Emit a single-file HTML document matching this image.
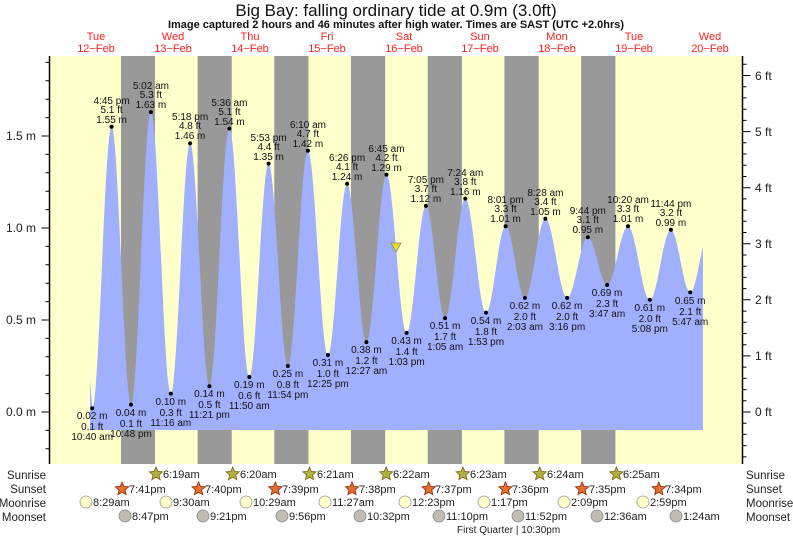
<!DOCTYPE html>
<html><head><meta charset="utf-8"><style>
body{margin:0;background:#fff}
svg{display:block;font-family:"Liberation Sans",sans-serif}
.l{font-size:10px;fill:#111;text-anchor:middle}
.r{font-size:11px;fill:#222}
</style></head><body>
<svg width="793" height="538" viewBox="0 0 793 538" xmlns="http://www.w3.org/2000/svg">
<defs>
<polygon id="st" points="0,-7 1.88,-2.59 6.66,-2.16 3.04,0.99 4.11,5.66 0,3.2 -4.11,5.66 -3.04,0.99 -6.66,-2.16 -1.88,-2.59"/>
</defs>
<rect x="50" y="56" width="692" height="408" fill="#ffffcc"/>
<g fill="#999999">
<rect x="121" y="56" width="34" height="408"/>
<rect x="197.6" y="56" width="34.1" height="408"/>
<rect x="274.3" y="56" width="34.2" height="408"/>
<rect x="351" y="56" width="34.2" height="408"/>
<rect x="427.7" y="56" width="34.2" height="408"/>
<rect x="504.4" y="56" width="34.3" height="408"/>
<rect x="581.1" y="56" width="34.3" height="408"/>
</g>
<path fill="#a0b0ff" d="M90,430 L90,380 L92.2,408.3 C99.2,408.3 104.6,126.8 111.6,126.8 C118.6,126.8 124,404.6 131,404.6 C138.2,404.6 143.7,112.1 150.9,112.1 C158.1,112.1 163.6,393.6 170.8,393.6 C177.7,393.6 183.2,143.4 190.1,143.4 C197,143.4 202.5,386.2 209.4,386.2 C216.6,386.2 222.2,128.6 229.4,128.6 C236.6,128.6 242.1,377 249.3,377 C256.2,377 261.7,163.6 268.6,163.6 C275.5,163.6 281,366 287.9,366 C295.1,366 300.7,150.7 307.9,150.7 C315.1,150.7 320.7,355 327.9,355 C334.8,355 340.2,183.8 347.1,183.8 C354,183.8 359.5,342.1 366.4,342.1 C373.6,342.1 379.3,174.6 386.5,174.6 C393.7,174.6 399.4,332.9 406.6,332.9 C413.5,332.9 419,205.9 425.9,205.9 C432.8,205.9 438.2,318.2 445.1,318.2 C452.4,318.2 458,198.6 465.3,198.6 C472.8,198.6 478.5,312.6 486,312.6 C493.1,312.6 498.5,226.2 505.6,226.2 C512.5,226.2 518,297.9 524.9,297.9 C532.3,297.9 538,218.8 545.4,218.8 C553.2,218.8 559.3,297.9 567.1,297.9 C574.6,297.9 580.3,237.2 587.8,237.2 C594.7,237.2 600.2,285 607.1,285 C614.6,285 620.5,226.2 628,226.2 C635.8,226.2 642,299.8 649.8,299.8 C657.4,299.8 663.3,229.8 670.9,229.8 C677.8,229.8 683.3,292.4 690.2,292.4 C695,292.4 699,262 703,247 L703,430 Z"/>
<g fill="#000">
<circle cx="92.2" cy="408.3" r="2"/><circle cx="111.6" cy="126.8" r="2"/><circle cx="131" cy="404.6" r="2"/><circle cx="150.9" cy="112.1" r="2"/><circle cx="170.8" cy="393.6" r="2"/><circle cx="190.1" cy="143.4" r="2"/><circle cx="209.4" cy="386.2" r="2"/><circle cx="229.4" cy="128.6" r="2"/><circle cx="249.3" cy="377" r="2"/><circle cx="268.6" cy="163.6" r="2"/><circle cx="287.9" cy="366" r="2"/><circle cx="307.9" cy="150.7" r="2"/><circle cx="327.9" cy="355" r="2"/><circle cx="347.1" cy="183.8" r="2"/><circle cx="366.4" cy="342.1" r="2"/><circle cx="386.5" cy="174.6" r="2"/><circle cx="406.6" cy="332.9" r="2"/><circle cx="425.9" cy="205.9" r="2"/><circle cx="445.1" cy="318.2" r="2"/><circle cx="465.3" cy="198.6" r="2"/><circle cx="486" cy="312.6" r="2"/><circle cx="505.6" cy="226.2" r="2"/><circle cx="524.9" cy="297.9" r="2"/><circle cx="545.4" cy="218.8" r="2"/><circle cx="567.1" cy="297.9" r="2"/><circle cx="587.8" cy="237.2" r="2"/><circle cx="607.1" cy="285" r="2"/><circle cx="628" cy="226.2" r="2"/><circle cx="649.8" cy="299.8" r="2"/><circle cx="670.9" cy="229.8" r="2"/><circle cx="690.2" cy="292.4" r="2"/>
</g>
<polygon points="391,243 401,243 396,252" fill="#e8e020" stroke="#888" stroke-width="0.8"/>
<g class="l">
<text x="111.6" y="104">4:45 pm</text><text x="111.6" y="113">5.1 ft</text><text x="111.6" y="123">1.55 m</text>
<text x="150.9" y="89">5:02 am</text><text x="150.9" y="98">5.3 ft</text><text x="150.9" y="108">1.63 m</text>
<text x="190.1" y="120">5:18 pm</text><text x="190.1" y="129">4.8 ft</text><text x="190.1" y="139">1.46 m</text>
<text x="229.4" y="106">5:36 am</text><text x="229.4" y="115">5.1 ft</text><text x="229.4" y="125">1.54 m</text>
<text x="268.6" y="141">5:53 pm</text><text x="268.6" y="150">4.4 ft</text><text x="268.6" y="160">1.35 m</text>
<text x="307.9" y="128">6:10 am</text><text x="307.9" y="137">4.7 ft</text><text x="307.9" y="147">1.42 m</text>
<text x="347.1" y="161">6:26 pm</text><text x="347.1" y="170">4.1 ft</text><text x="347.1" y="180">1.24 m</text>
<text x="386.5" y="152">6:45 am</text><text x="386.5" y="161">4.2 ft</text><text x="386.5" y="171">1.29 m</text>
<text x="425.9" y="183">7:05 pm</text><text x="425.9" y="192">3.7 ft</text><text x="425.9" y="202">1.12 m</text>
<text x="465.3" y="176">7:24 am</text><text x="465.3" y="185">3.8 ft</text><text x="465.3" y="195">1.16 m</text>
<text x="505.6" y="203">8:01 pm</text><text x="505.6" y="212">3.3 ft</text><text x="505.6" y="222">1.01 m</text>
<text x="545.4" y="196">8:28 am</text><text x="545.4" y="205">3.4 ft</text><text x="545.4" y="215">1.05 m</text>
<text x="587.8" y="214">9:44 pm</text><text x="587.8" y="223">3.1 ft</text><text x="587.8" y="233">0.95 m</text>
<text x="628" y="203">10:20 am</text><text x="628" y="212">3.3 ft</text><text x="628" y="222">1.01 m</text>
<text x="670.9" y="207">11:44 pm</text><text x="670.9" y="216">3.2 ft</text><text x="670.9" y="226">0.99 m</text>
<text x="92.2" y="419">0.02 m</text><text x="92.2" y="430">0.1 ft</text><text x="92.2" y="440">10:40 am</text>
<text x="131" y="416">0.04 m</text><text x="131" y="427">0.1 ft</text><text x="131" y="437">10:48 pm</text>
<text x="170.8" y="405">0.10 m</text><text x="170.8" y="416">0.3 ft</text><text x="170.8" y="426">11:16 am</text>
<text x="209.4" y="397">0.14 m</text><text x="209.4" y="408">0.5 ft</text><text x="209.4" y="418">11:21 pm</text>
<text x="249.3" y="388">0.19 m</text><text x="249.3" y="399">0.6 ft</text><text x="249.3" y="409">11:50 am</text>
<text x="287.9" y="377">0.25 m</text><text x="287.9" y="388">0.8 ft</text><text x="287.9" y="398">11:54 pm</text>
<text x="327.9" y="366">0.31 m</text><text x="327.9" y="377">1.0 ft</text><text x="327.9" y="387">12:25 pm</text>
<text x="366.4" y="353">0.38 m</text><text x="366.4" y="364">1.2 ft</text><text x="366.4" y="374">12:27 am</text>
<text x="406.6" y="344">0.43 m</text><text x="406.6" y="355">1.4 ft</text><text x="406.6" y="365">1:03 pm</text>
<text x="445.1" y="329">0.51 m</text><text x="445.1" y="340">1.7 ft</text><text x="445.1" y="350">1:05 am</text>
<text x="486" y="324">0.54 m</text><text x="486" y="335">1.8 ft</text><text x="486" y="345">1:53 pm</text>
<text x="524.9" y="309">0.62 m</text><text x="524.9" y="320">2.0 ft</text><text x="524.9" y="330">2:03 am</text>
<text x="567.1" y="309">0.62 m</text><text x="567.1" y="320">2.0 ft</text><text x="567.1" y="330">3:16 pm</text>
<text x="607.1" y="296">0.69 m</text><text x="607.1" y="307">2.3 ft</text><text x="607.1" y="317">3:47 am</text>
<text x="649.8" y="311">0.61 m</text><text x="649.8" y="322">2.0 ft</text><text x="649.8" y="332">5:08 pm</text>
<text x="690.2" y="304">0.65 m</text><text x="690.2" y="315">2.1 ft</text><text x="690.2" y="325">5:47 am</text>
</g>
<g stroke="#000" stroke-width="1.5">
<line x1="49.5" y1="56" x2="49.5" y2="464"/>
<line x1="742.5" y1="56" x2="742.5" y2="464"/>
</g>
<path stroke="#000" stroke-width="1" fill="none" d="M45.5,448.8H49.5M45.5,430.4H49.5M41.5,412H49.5M45.5,393.6H49.5M45.5,375.2H49.5M45.5,356.8H49.5M45.5,338.4H49.5M41.5,320H49.5M45.5,301.6H49.5M45.5,283.2H49.5M45.5,264.8H49.5M45.5,246.4H49.5M41.5,228H49.5M45.5,209.6H49.5M45.5,191.2H49.5M45.5,172.8H49.5M45.5,154.4H49.5M41.5,136H49.5M45.5,117.6H49.5M45.5,99.2H49.5M45.5,80.8H49.5M45.5,62.4H49.5"/>
<path stroke="#000" stroke-width="1" fill="none" d="M742.5,456.9h4M742.5,445.6h4M742.5,434.4h4M742.5,423.2h4M742.5,412h8M742.5,400.8h4M742.5,389.6h4M742.5,378.4h4M742.5,367.1h4M742.5,355.9h8M742.5,344.7h4M742.5,333.5h4M742.5,322.3h4M742.5,311.1h4M742.5,299.8h8M742.5,288.6h4M742.5,277.4h4M742.5,266.2h4M742.5,255h4M742.5,243.8h8M742.5,232.5h4M742.5,221.3h4M742.5,210.1h4M742.5,198.9h4M742.5,187.7h8M742.5,176.5h4M742.5,165.2h4M742.5,154h4M742.5,142.8h4M742.5,131.6h8M742.5,120.4h4M742.5,109.2h4M742.5,97.9h4M742.5,86.7h4M742.5,75.5h8M742.5,64.3h4"/>
<g font-size="12" fill="#222" text-anchor="end">
<text x="36" y="140">1.5 m</text><text x="36" y="232">1.0 m</text><text x="36" y="324">0.5 m</text><text x="36" y="416">0.0 m</text>
</g>
<g font-size="12" fill="#222">
<text x="755" y="80">6 ft</text><text x="755" y="136">5 ft</text><text x="755" y="192">4 ft</text><text x="755" y="248">3 ft</text><text x="755" y="304">2 ft</text><text x="755" y="360">1 ft</text><text x="755" y="416">0 ft</text>
</g>
<text x="396" y="16" font-size="17" text-anchor="middle" fill="#111">Big Bay: falling  ordinary tide at 0.9m (3.0ft)</text>
<text x="396" y="28" font-size="11" font-weight="bold" text-anchor="middle" fill="#111">Image captured 2 hours and 46 minutes after high water. Times are SAST (UTC +2.0hrs)</text>
<g font-size="11" fill="#ff2020" text-anchor="middle">
<text x="96" y="40">Tue</text><text x="96" y="52">12−Feb</text>
<text x="173" y="40">Wed</text><text x="173" y="52">13−Feb</text>
<text x="250" y="40">Thu</text><text x="250" y="52">14−Feb</text>
<text x="327" y="40">Fri</text><text x="327" y="52">15−Feb</text>
<text x="404" y="40">Sat</text><text x="404" y="52">16−Feb</text>
<text x="480" y="40">Sun</text><text x="480" y="52">17−Feb</text>
<text x="557" y="40">Mon</text><text x="557" y="52">18−Feb</text>
<text x="634" y="40">Tue</text><text x="634" y="52">19−Feb</text>
<text x="710" y="40">Wed</text><text x="710" y="52">20−Feb</text>
</g>
<g font-size="11.5" fill="#222" text-anchor="end">
<text x="46" y="479">Sunrise</text><text x="46" y="493">Sunset</text><text x="46" y="507">Moonrise</text><text x="46" y="521">Moonset</text>
</g>
<g font-size="11.5" fill="#222">
<text x="746" y="479">Sunrise</text><text x="746" y="493">Sunset</text><text x="746" y="507">Moonrise</text><text x="746" y="521">Moonset</text>
</g>
<g fill="#b0b040" stroke="#806010" stroke-width="0.8">
<use href="#st" x="156" y="474"/><use href="#st" x="232.7" y="474"/><use href="#st" x="309.5" y="474"/><use href="#st" x="386.2" y="474"/><use href="#st" x="462.9" y="474"/><use href="#st" x="539.7" y="474"/><use href="#st" x="616.4" y="474"/>
</g>
<g fill="#e07030" stroke="#902000" stroke-width="0.8">
<use href="#st" x="122" y="489"/><use href="#st" x="198.6" y="489"/><use href="#st" x="275.3" y="489"/><use href="#st" x="352" y="489"/><use href="#st" x="428.7" y="489"/><use href="#st" x="505.4" y="489"/><use href="#st" x="582.1" y="489"/><use href="#st" x="658.8" y="489"/>
</g>
<g class="r">
<text x="163" y="478">6:19am</text><text x="240" y="478">6:20am</text><text x="317" y="478">6:21am</text><text x="393" y="478">6:22am</text><text x="470" y="478">6:23am</text><text x="547" y="478">6:24am</text><text x="623" y="478">6:25am</text>
<text x="129" y="493">7:41pm</text><text x="205" y="493">7:40pm</text><text x="282" y="493">7:39pm</text><text x="359" y="493">7:38pm</text><text x="435" y="493">7:37pm</text><text x="512" y="493">7:36pm</text><text x="589" y="493">7:35pm</text><text x="665" y="493">7:34pm</text>
</g>
<g fill="#ffffcc" stroke="#999" stroke-width="0.8">
<circle cx="86" cy="502" r="6"/><circle cx="166" cy="502" r="6"/><circle cx="246" cy="502" r="6"/><circle cx="325" cy="502" r="6"/><circle cx="405" cy="502" r="6"/><circle cx="484" cy="502" r="6"/><circle cx="564" cy="502" r="6"/><circle cx="643" cy="502" r="6"/>
</g>
<g fill="#c0bcb0" stroke="#888" stroke-width="0.8">
<circle cx="125" cy="516" r="6"/><circle cx="203" cy="516" r="6"/><circle cx="282" cy="516" r="6"/><circle cx="360" cy="516" r="6"/><circle cx="439" cy="516" r="6"/><circle cx="518" cy="516" r="6"/><circle cx="597" cy="516" r="6"/><circle cx="676" cy="516" r="6"/>
</g>
<g class="r">
<text x="93" y="506">8:29am</text><text x="173" y="506">9:30am</text><text x="253" y="506">10:29am</text><text x="332" y="506">11:27am</text><text x="412" y="506">12:23pm</text><text x="491" y="506">1:17pm</text><text x="571" y="506">2:09pm</text><text x="650" y="506">2:59pm</text>
<text x="132" y="520">8:47pm</text><text x="210" y="520">9:21pm</text><text x="289" y="520">9:56pm</text><text x="367" y="520">10:32pm</text><text x="446" y="520">11:10pm</text><text x="525" y="520">11:52pm</text><text x="604" y="520">12:36am</text><text x="683" y="520">1:24am</text>
</g>
<text x="457" y="533" font-size="10" fill="#222">First Quarter | 10:30pm</text>
</svg>
</body></html>
